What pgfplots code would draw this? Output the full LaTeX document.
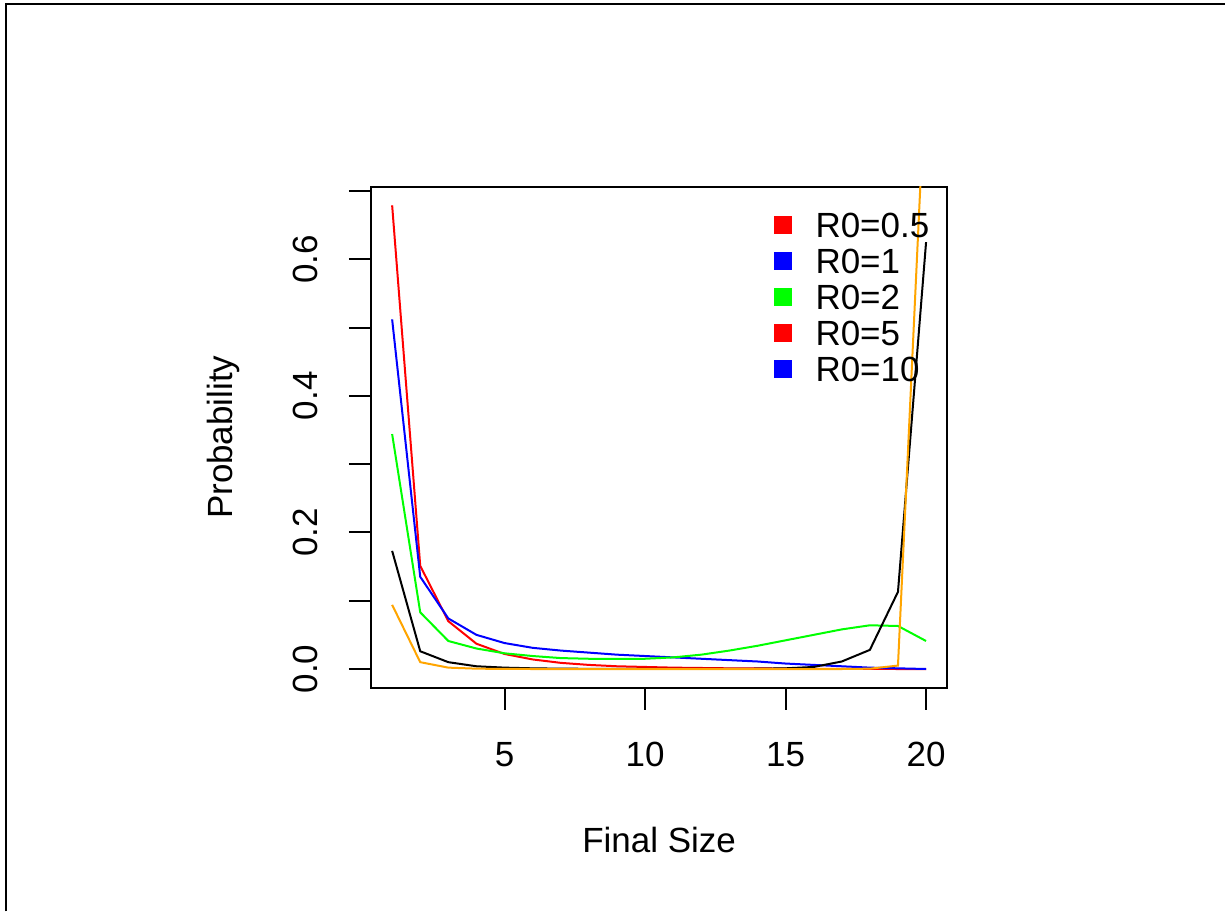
\documentclass[border=0pt]{standalone}
\usepackage{fontspec}
\setmainfont{Liberation Sans}
\usepackage{pgfplots}
\pgfplotsset{compat=1.18}
\usepackage{pgfplotstable}

\definecolor{rgreen}{RGB}{0,255,0}
\definecolor{rorange}{RGB}{255,165,0}

% final size distributions, one column per R0
\pgfplotstableread{
n  r05     r1     r2     r5      r10
1  0.679   0.512  0.344  0.173   0.094
2  0.151   0.135  0.083  0.026   0.010
3  0.070   0.074  0.041  0.010   0.002
4  0.037   0.050  0.030  0.004   0.0005
5  0.022   0.038  0.023  0.002   0.0001
6  0.014   0.031  0.019  0.001   0
7  0.009   0.027  0.016  0.0005  0
8  0.006   0.024  0.015  0.0003  0
9  0.004   0.021  0.015  0.0002  0
10 0.003   0.019  0.015  0.0001  0
11 0.002   0.017  0.017  0.0001  0
12 0.0015  0.015  0.021  0.0001  0
13 0.001   0.013  0.027  0.0002  0
14 0.001   0.011  0.034  0.0004  0
15 0.0005  0.008  0.042  0.001   0
16 0.0003  0.006  0.050  0.003   0
17 0.0002  0.004  0.058  0.011   0
18 0.0001  0.002  0.064  0.028   0.0005
19 0       0.001  0.063  0.113   0.005
20 0       0.000  0.041  0.625   0.888
}\fsdata

\begin{document}
\begin{tikzpicture}
\path[fill=white] (0,0) rectangle (613pt,456pt);
\draw[line width=0.75pt] (3pt,0) -- (3pt,454pt) -- (613pt,454pt);
\begin{axis}[
    at={(185.5pt,112pt)}, anchor=south west,
    scale only axis,
    width=288.5pt, height=250.5pt,
    xmin=0.24, xmax=20.76,
    ymin=-0.0272, ymax=0.706,
    xtick={5,10,15,20},
    ytick={0,0.1,0.2,0.3,0.4,0.5,0.6,0.7},
    yticklabels={0.0,,0.2,,0.4,,0.6,},
    xtick pos=left, ytick pos=left,
    tick align=outside,
    major tick length=11pt,
    every tick/.style={black, line width=1pt},
    axis line style={line width=1pt},
    /pgf/number format/assume math mode=true,
    font=\fontsize{17.5}{21}\selectfont,
    xticklabel style={anchor=base, yshift=-28.5pt, inner sep=0pt},
    yticklabel style={anchor=base, xshift=-15.5pt, rotate=90, inner sep=0pt},
    xlabel={Final Size},
    ylabel={Probability},
    every axis x label/.style={at={(axis description cs:0.5,-0.329)}, anchor=base, inner sep=0pt},
    every axis y label/.style={at={(axis description cs:-0.239,0.5)}, anchor=base, rotate=90, inner sep=0pt},
    legend style={draw=none, fill=none, at={(axis description cs:0.699,0.951)}, anchor=north west,
        inner sep=0pt, row sep=0pt, column sep=0pt,
        nodes={inner sep=0pt, text height=13pt, text depth=5pt, font=\fontsize{17.5}{21}\selectfont}},
    legend cell align=left,
    legend image code/.code={\fill[#1] (0pt,-2pt) rectangle (8.5pt,6.5pt); \path (20.25pt,0);},
]
\addplot[red, line width=1pt, forget plot] table[x=n, y=r05] {\fsdata};
\addplot[blue, line width=1pt, forget plot] table[x=n, y=r1] {\fsdata};
\addplot[rgreen, line width=1pt, forget plot] table[x=n, y=r2] {\fsdata};
\addplot[black, line width=1pt, forget plot] table[x=n, y=r5] {\fsdata};
\addplot[rorange, line width=1pt, forget plot] table[x=n, y=r10] {\fsdata};
\addlegendimage{red}
\addlegendimage{blue}
\addlegendimage{rgreen}
\addlegendimage{red}
\addlegendimage{blue}
\legend{R0=0.5, R0=1, R0=2, R0=5, R0=10}
\end{axis}
\end{tikzpicture}
\end{document}
